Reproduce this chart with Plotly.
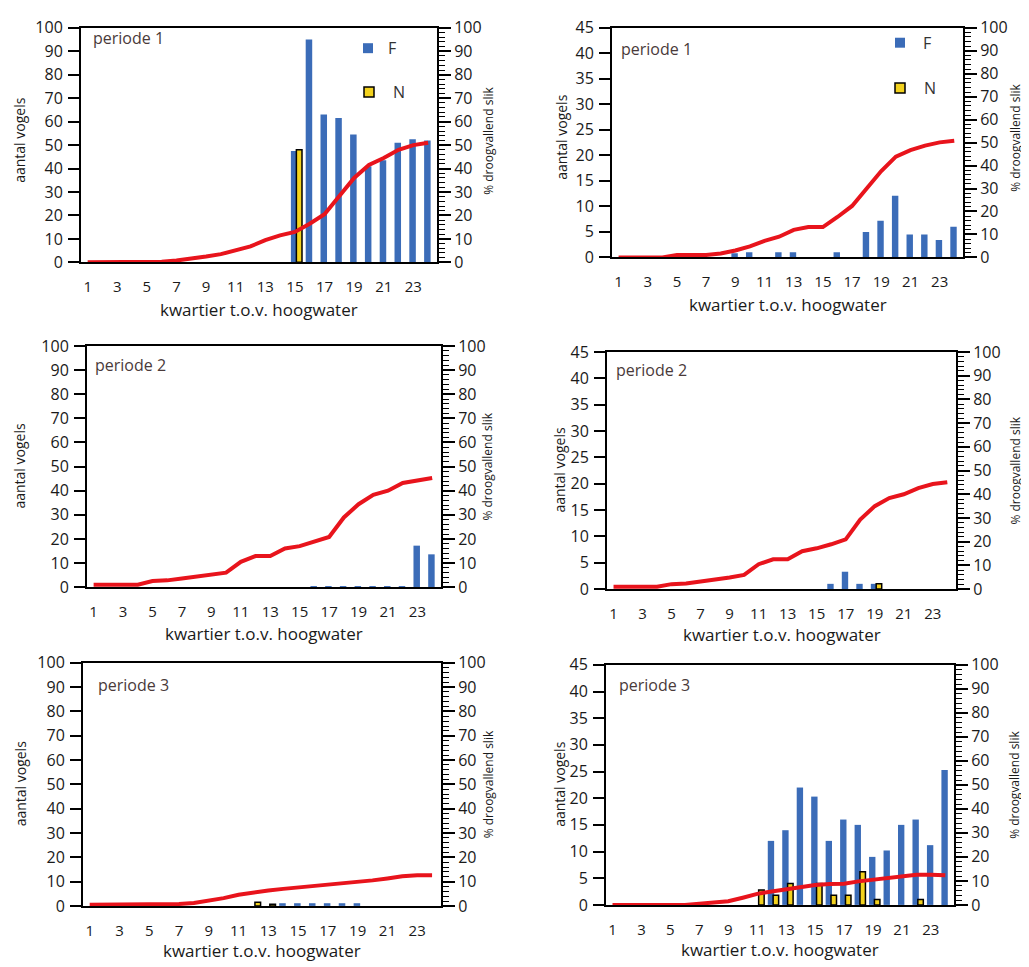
import plotly.graph_objects as go

W, H = 1029, 967

quarters = list(range(1, 25))
x_tick_vals = list(range(1, 24, 2))
x_tick_text = [str(v) for v in x_tick_vals]

# ---- periode 1, left panel (0-100 scale)
p1a_F = [None] * 14 + [47.5, 95, 63, 61.5, 54.5, 41, 43.5, 51, 52.5, 52]
p1a_N = [None] * 14 + [48] + [None] * 9
p1a_slik = [0, 0, 0, 0, 0, 0.3, 0.8, 1.5, 2.5, 3.5, 5, 6.8, 9.5, 11.5, 13, 16.5,
            20.5, 28, 36, 41.5, 44.5, 48, 50, 51]

# ---- periode 1, right panel (0-45 scale)
p1b_F = [None, None, None, None, None, None, None, None, 0.8, 1.0, None, 1.0, 1.0,
         None, None, 1.0, None, 5.0, 7.2, 12.1, 4.5, 4.5, 3.4, 6.0]
p1b_N = [None] * 24
p1b_slik = [0, 0, 0, 0, 1, 1, 1, 1.7, 3, 4.8, 7.2, 9, 12, 13.2, 13.2, 17.6,
            22.4, 30, 37.6, 43.9, 46.7, 48.7, 50.1, 50.8]

# ---- periode 2, left panel
p2a_F = [None] * 15 + [0.4, 0.4, 0.4, 0.4, 0.4, 0.4, 0.4, 17.2, 13.6]
p2a_N = [None] * 24
p2a_slik = [1, 1, 1, 1, 2.5, 2.8, 3.6, 4.3, 5, 6, 10.5, 12.9, 12.9, 16, 17, 18.9,
            20.8, 28.9, 34.4, 38.3, 40, 43.2, 44.4, 45.3]

# ---- periode 2, right panel
p2b_F = [None] * 15 + [1.0, 3.3, 1.0, 1.0, None, None, None, None, None]
p2b_N = [None] * 18 + [1.0] + [None] * 5
p2b_slik = [1, 1, 1, 1, 2.1, 2.4, 3.2, 3.9, 4.9, 6, 10.5, 12.6, 12.6, 16, 17.2, 18.9,
            21, 29.3, 35, 38.4, 40, 42.6, 44.3, 45.1]

# ---- periode 3, left panel
p3a_F = [None] * 13 + [1.1, 1.1, 1.1, 1.1, 1.1, 1.1, None, None, None, None, None]
p3a_N = [None] * 11 + [1.5, 0.7] + [None] * 11
p3a_slik = [0.5, 0.5, 0.5, 0.5, 0.5, 0.5, 0.8, 1.2, 2.0, 3.2, 4.6, 5.6, 6.3, 7.0, 7.6,
            8.2, 8.6, 9.0, 9.6, 10.5, 11.3, 12.2, 12.6, 12.6]

# ---- periode 3, right panel
p3b_F = [None] * 11 + [12, 14, 22, 20.3, 12, 16, 15, 9, 10.2, 15, 16, 11.2, 25.3]
p3b_N = [None] * 10 + [2.8, 1.8, 4, None, 4, 1.8, 1.8, 6.2, 1, None, None, 1, None, None]
p3b_slik = [0, 0, 0, 0, 0, 0, 0.5, 1, 1.5, 3, 4.6, 5.6, 6.6, 7.6, 8.3, 8.7,
            8.8, 9.8, 10.5, 11.4, 12.2, 12.6, 12.6, 12.4]

period_labels = ["periode 1", "periode 1", "periode 2", "periode 2", "periode 3", "periode 3"]
left_max = [100, 45, 100, 45, 100, 45]
left_dtick = [10, 5, 10, 5, 10, 5]
F_series = [p1a_F, p1b_F, p2a_F, p2b_F, p3a_F, p3b_F]
N_series = [p1a_N, p1b_N, p2a_N, p2b_N, p3a_N, p3b_N]
slik_series = [p1a_slik, p1b_slik, p2a_slik, p2b_slik, p3a_slik, p3b_slik]

# target panel geometry in screen pixels: (left, right, top, bottom)
boxes = [
    (80, 436, 19, 263),
    (611, 962, 18, 258),
    (86, 440, 347, 589),
    (606, 955, 353, 591),
    (82, 440, 665, 909),
    (605, 953, 667, 908),
]
period_pos = [(90, 38), (618, 49), (92, 366), (613, 371), (95, 687), (616, 687)]
ytitle_left_x = [19, 561, 19, 559, 19, 559]
ytitle_right_x = [488, 1015, 487, 1015, 487, 1014]
xtitle_gap = [47, 47, 47, 46, 45, 45]

DX, DY0, SY = 7.0, 18.7, 0.981


def fx(v):
    return min(1.0, max(0.0, (v - DX) / W))


def fy(v, top_min=0.0):
    s = max(top_min, (v - DY0) / SY)
    return min(1.0, max(0.0, 1 - s / H))


BLUE = "#3b6cb8"
YELLOW = "#f3d21e"
RED = "#e8141c"
TXT = "#1a1a1a"
FONT = "Open Sans"

fig = go.Figure()
layout = dict(
    width=W, height=H, margin=dict(l=0, r=0, t=0, b=0),
    paper_bgcolor="white", plot_bgcolor="white",
    barmode="overlay", showlegend=False,
    font=dict(family=FONT, size=15, color=TXT),
)

annotations = []
shapes = []

for i in range(6):
    k = i + 1
    L, R, T, B = boxes[i]
    xa = "x" if k == 1 else f"x{k}"
    ya_l = "y" if k == 1 else f"y{2 * k - 1}"
    ya_r = f"y{2 * k}"
    xa_name = "xaxis" if k == 1 else f"xaxis{k}"
    yl_name = "yaxis" if k == 1 else f"yaxis{2 * k - 1}"
    yr_name = f"yaxis{2 * k}"

    layout[xa_name] = dict(
        domain=[fx(L), fx(R)], anchor=ya_l, range=[0.55, 24.6],
        tickvals=x_tick_vals, ticktext=x_tick_text, ticks="",
        ticklabelstandoff=10, showgrid=False, zeroline=False,
        showline=True, linecolor="black", linewidth=2, mirror=True,
        tickfont=dict(size=15, color=TXT),
    )
    layout[yl_name] = dict(
        domain=[fy(B), fy(T, top_min=9.0)], anchor=xa, range=[0, left_max[i]],
        dtick=left_dtick[i], tick0=0, ticks="outside", ticklen=11, tickwidth=2,
        tickcolor="black", showgrid=False, zeroline=False,
        showline=True, linecolor="black", linewidth=2,
        tickfont=dict(size=16, color=TXT), ticklabelstandoff=2,
    )
    layout[yr_name] = dict(
        overlaying=ya_l, side="right", anchor=xa, range=[0, 100],
        dtick=10, tick0=0, ticks="outside", ticklen=12, tickwidth=1.5,
        tickcolor="black", showgrid=False, zeroline=False,
        showline=True, linecolor="black", linewidth=2,
        minor=dict(dtick=2, ticks="outside", ticklen=6, tickwidth=1, tickcolor="black"),
        tickfont=dict(size=16, color=TXT), ticklabelstandoff=0,
    )

    fig.add_trace(go.Bar(
        x=quarters, y=F_series[i], xaxis=xa, yaxis=ya_l, name="F",
        width=0.44, offset=-0.27, marker=dict(color=BLUE, line=dict(width=0)),
    ))
    fig.add_trace(go.Bar(
        x=quarters, y=N_series[i], xaxis=xa, yaxis=ya_l, name="N",
        width=0.38, offset=0.1, marker=dict(color=YELLOW, line=dict(color="black", width=1.5)),
    ))
    fig.add_trace(go.Scatter(
        x=quarters, y=slik_series[i], xaxis=xa, yaxis=ya_r, mode="lines",
        line=dict(color=RED, width=4), name="% droogvallend slik",
    ))

    # period label
    px, py = period_pos[i]
    annotations.append(dict(
        xref="paper", yref="paper", x=fx(px), y=fy(py),
        xanchor="left", yanchor="middle", showarrow=False,
        text=period_labels[i], font=dict(size=16, color="#4a3a3a"),
    ))
    # x title
    annotations.append(dict(
        xref="paper", yref="paper", x=fx((L + R) / 2),
        y=fy(B + xtitle_gap[i]), xanchor="center", yanchor="middle", showarrow=False,
        text="kwartier t.o.v. hoogwater", font=dict(size=17, color=TXT),
    ))
    # left y title
    annotations.append(dict(
        xref="paper", yref="paper", x=fx(ytitle_left_x[i]), y=fy((T + B) / 2),
        xanchor="center", yanchor="middle", showarrow=False, textangle=-90,
        text="aantal vogels", font=dict(size=14, color=TXT),
    ))
    # right y title
    annotations.append(dict(
        xref="paper", yref="paper", x=fx(ytitle_right_x[i]), y=fy((T + B) / 2),
        xanchor="center", yanchor="middle", showarrow=False, textangle=-90,
        text="% droogvallend slik", font=dict(size=12, color=TXT),
    ))

# legend boxes (periode 1 panels)
legend_pos = [((367, 48), (368, 92), 391, 398), ((899, 42.5), (899, 88), 926, 929)]
for (fpos, npos, ftx, ntx) in legend_pos:
    s = 5.0
    shapes.append(dict(type="rect", xref="paper", yref="paper",
                       x0=fx(fpos[0] - s), x1=fx(fpos[0] + s),
                       y0=fy(fpos[1] + s), y1=fy(fpos[1] - s),
                       fillcolor=BLUE, line=dict(width=0)))
    shapes.append(dict(type="rect", xref="paper", yref="paper",
                       x0=fx(npos[0] - s), x1=fx(npos[0] + s),
                       y0=fy(npos[1] + s), y1=fy(npos[1] - s),
                       fillcolor=YELLOW, line=dict(color="black", width=1.5)))
    annotations.append(dict(xref="paper", yref="paper", x=fx(ftx), y=fy(fpos[1]),
                            xanchor="center", yanchor="middle", showarrow=False,
                            text="F", font=dict(size=16, color="#333333")))
    annotations.append(dict(xref="paper", yref="paper", x=fx(ntx), y=fy(npos[1]),
                            xanchor="center", yanchor="middle", showarrow=False,
                            text="N", font=dict(size=16, color="#333333")))

layout["annotations"] = annotations
layout["shapes"] = shapes
fig.update_layout(**layout)
fig.write_html("out.html")
